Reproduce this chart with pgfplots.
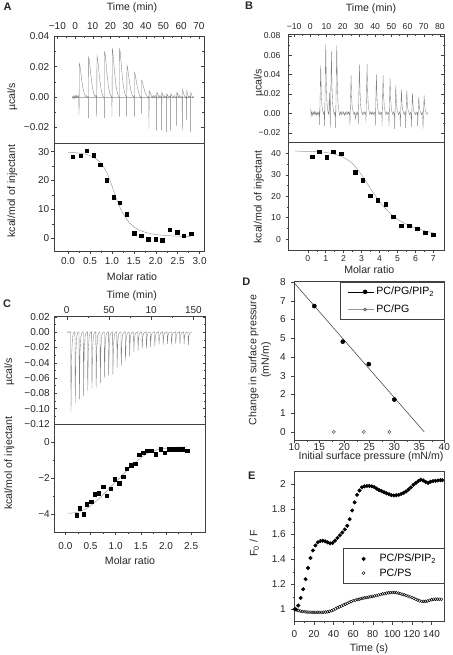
\documentclass[border=0pt]{standalone}
\usepackage{pgfplots}
\pgfplotsset{compat=1.18}
\usepackage{fontspec}
\setmainfont{Liberation Sans}
\newcommand{\fs}{\fontsize{10.6}{12.5}\selectfont}
\newcommand{\ft}{\fontsize{10}{12}\selectfont}
\newcommand{\fb}{\fontsize{8.6}{10}\selectfont}
\pgfplotsset{
  base/.style={scale only axis, anchor=south west,
    scaled x ticks=false, scaled y ticks=false,
    axis line style={black!75, line width=0.5pt},
    every tick/.style={black!75, line width=0.4pt},
    major tick length=3pt, minor tick length=1.6pt,
    tick label style={font=\ft, text=black!85, inner sep=1pt},
    /pgf/number format/assume math mode=true},
  itctop/.style={base, tick align=inside, xtick pos=right, xticklabel pos=right,
    ytick pos=both, yticklabel pos=left, minor x tick num=1, minor y tick num=1},
  itcbot/.style={base, tick align=outside, xtick pos=left, ytick pos=left,
    minor x tick num=1, minor y tick num=1},
  trace/.style={black!50, line width=0.35pt},
  fit/.style={black!38, line width=0.5pt, smooth},
  pts/.style={only marks, mark=square*, mark size=1.7pt, black},
}
\begin{document}
\begin{tikzpicture}
\useasboundingbox (0pt,0pt) rectangle (452pt,-655pt);

% ---------------- A top
\begin{axis}[itctop, at={(54pt,-143pt)}, width=150pt, height=107pt,
  yticklabel style={xshift=-3.5pt}, xticklabel style={yshift=5.5pt},
  xmin=-11.9, xmax=72.9, ymin=-0.0304, ymax=0.0402,
  xtick={-10,0,10,20,30,40,50,60,70}, xticklabels={−10,0,10,20,30,40,50,60,70},
  ytick={-0.02,0,0.02,0.04}, yticklabels={−0.02,0.00,0.02,0.04}]
\addplot[black!30, line width=0.3pt] coordinates {(-1.5,0) (67,0)};
\addplot[trace] coordinates {
(-1.5,0.0005) (-1.1,-0.0012) (-0.7,0.0008) (-0.3,-0.001) (0.1,0.0009) (0.5,-0.0007) (0.9,0.0011) (1.3,-0.0006) (1.7,0.0008) (2.1,-0.0003)
(2.26,-0.012) (2.4,0.022) (2.8,0.0205) (3.3,0.0155) (3.9,0.0099) (4.6,0.0048) (5.3,0.0018) (6.0,0.0002) (6.6,0.0009) (7.1,-0.0006) (7.45,0.0003)
(7.53,-0.014) (7.7,0.026) (8.1,0.0240) (8.6,0.0182) (9.2,0.0117) (9.9,0.0057) (10.6,0.0021) (11.3,0.0003) (11.8,0.0009) (12.15,-0.0004)
(12.24,-0.013) (12.4,0.027) (12.8,0.0248) (13.3,0.0189) (13.9,0.0122) (14.6,0.0059) (15.3,0.0022) (15.9,0.0004) (16.45,-0.0005)
(16.57,-0.014) (16.7,0.030) (17.1,0.0276) (17.6,0.021) (18.2,0.0135) (18.9,0.0066) (19.6,0.0024) (20.3,0.0006) (20.8,-0.0004)
(20.90,-0.013) (21.05,0.032) (21.4,0.0294) (21.9,0.0224) (22.5,0.0144) (23.2,0.007) (23.9,0.0026) (24.5,0.0006) (24.95,-0.0003)
(25.05,-0.013) (25.2,0.032) (25.55,0.0294) (26.05,0.0224) (26.65,0.0144) (27.35,0.007) (28.05,0.0026) (28.7,0.0005) (29.1,-0.0004)
(29.19,-0.013) (29.35,0.021) (29.7,0.0193) (30.2,0.0147) (30.8,0.0095) (31.5,0.0046) (32.2,0.0017) (32.9,0.0002) (33.4,0.0008)
(33.52,-0.013) (33.65,0.016) (34.0,0.0147) (34.5,0.0112) (35.1,0.0072) (35.8,0.0035) (36.5,0.0013) (37.0,-0.0006) (37.4,0.0004)
(37.47,-0.011) (37.6,0.011) (38.0,0.0101) (38.5,0.0077) (39.1,0.005) (39.8,0.0024) (40.5,0.0009) (41.1,-0.0007) (41.7,0.0005)
(41.80,-0.021) (41.9,0.004) (42.4,0.003) (43.0,0.0015) (43.6,-0.0008) (44.2,0.0011) (44.8,-0.0006) (45.4,0.0009) (46.0,-0.0003)
(46.14,-0.022) (46.25,0.003) (46.8,0.002) (47.4,-0.0007) (48.0,0.001) (48.5,-0.0006) (48.9,0.0003)
(48.97,-0.022) (49.1,0.003) (49.6,0.0015) (50.2,-0.0008) (50.8,0.0009) (51.4,-0.0005) (51.7,0.0003)
(51.79,-0.023) (51.9,0.002) (52.4,0.001) (53.0,-0.0007) (53.6,0.0008) (53.95,-0.0002)
(54.05,-0.022) (54.15,0.002) (54.7,0.0012) (55.4,-0.0007) (56.1,0.0009) (56.8,-0.0005) (57.35,0.0003)
(57.44,-0.019) (57.55,0.003) (58.0,0.002) (58.6,-0.0004) (59.2,0.0009) (59.9,-0.0006) (60.5,0.0003)
(60.64,-0.022) (60.75,0.005) (61.2,0.003) (61.8,0.0008) (62.4,-0.0006) (62.95,0.0004)
(63.09,-0.015) (63.2,0.004) (63.6,0.002) (64.2,-0.0005) (64.8,0.0006) (65.25,-0.0002)
(65.35,-0.023) (65.45,0.003) (65.9,0.0015) (66.4,-0.0006) (66.9,0.0004)};
\end{axis}

% ---------------- A bottom
\begin{axis}[itcbot, at={(54pt,-251pt)}, width=150pt, height=108pt,
  yticklabel style={xshift=-0.5pt}, xticklabel style={yshift=-2pt},
  xmin=-0.32, xmax=3.1, ymin=-4.4, ymax=33,
  xtick={0,0.5,1,1.5,2,2.5,3}, xticklabels={0.0,0.5,1.0,1.5,2.0,2.5,3.0},
  ytick={0,10,20,30}]
\addplot[fit] coordinates {(0.0,29.8) (0.2,29.6) (0.4,29.1) (0.55,28.3) (0.7,26.8) (0.8,25.0) (0.9,22.2) (1.0,18.2) (1.1,13.8) (1.2,10.2) (1.3,7.5) (1.4,5.4) (1.5,4.0) (1.6,3.0) (1.8,1.9) (2.0,1.3) (2.4,0.8) (2.8,0.6)};
\addplot[pts] coordinates {(0.11,28.3) (0.29,28.7) (0.43,30.3) (0.59,28.8) (0.73,25.4) (0.88,20.1) (1.04,14.2) (1.18,12.3) (1.34,8.3) (1.51,1.7) (1.67,0.8) (1.83,-0.3) (2.0,-0.3) (2.15,-0.6) (2.32,2.9) (2.49,2.1) (2.64,1.0) (2.81,1.5)};
\end{axis}

% ---------------- B top
\begin{axis}[itctop, at={(288.7pt,-142.7pt)}, width=155.6pt, height=108.7pt,
  tick label style={font=\fb},
  yticklabel style={xshift=-7pt}, xticklabel style={yshift=3.5pt},
  xmin=-13.3, xmax=82.7, ymin=-0.0303, ymax=0.0818,
  xtick={-10,0,10,20,30,40,50,60,70,80}, xticklabels={−10,0,10,20,30,40,50,60,70,80},
  ytick={-0.02,0,0.02,0.04,0.06,0.08}, yticklabels={−0.02,0.00,0.02,0.04,0.06,0.08}]
\addplot[trace] coordinates {
(0.3,0.005) (0.5,-0.003) (0.9,0.001) (1.3,-0.002) (1.7,0.0015) (2.1,-0.001) (2.5,0.002) (2.9,-0.0015) (3.3,0.001) (3.7,-0.002) (4.1,0.0015) (4.5,-0.001) (4.9,0.001) (5.3,-0.0015) (5.6,0.001)
(5.76,-0.012) (6.46,0.0495) (6.8,0.022) (7.2,0.008) (7.7,0.002) (8.2,-0.001) (8.6,0.0015)
(8.85,-0.013) (9.55,0.0714) (9.9,0.032) (10.3,0.011) (10.8,0.003) (11.2,-0.001)
(11.5,0.001) (11.8,0.0209) (12.1,0.004) (12.25,0.0)
(12.35,-0.015) (13.05,0.0639) (13.4,0.028) (13.8,0.01) (14.3,0.003) (14.8,-0.0015) (15.3,0.001) (15.5,-0.001)
(15.64,-0.015) (16.34,0.0701) (16.7,0.031) (17.1,0.011) (17.6,0.003) (18.1,-0.002) (18.6,0.0015) (19.1,-0.0015) (19.6,0.002) (20.1,-0.001) (20.6,0.0015) (21.1,-0.002) (21.6,0.001) (22.1,-0.0015) (22.6,0.002) (23.1,-0.001) (23.6,0.0015) (24.1,-0.001) (24.4,0.001)
(24.49,-0.013) (25.19,0.0392) (25.5,0.017) (25.9,0.006) (26.4,0.002) (26.9,-0.001) (27.4,0.001) (27.86,-0.006) (28.3,0.001) (28.8,-0.0015) (29.3,0.0015) (29.5,-0.001)
(29.63,-0.012) (30.33,0.0501) (30.7,0.022) (31.1,0.008) (31.6,0.002) (32.1,-0.0015) (32.6,0.0015) (33.1,-0.001) (33.6,0.0015) (34.1,-0.001) (34.3,0.001)
(34.36,-0.010) (35.06,0.0508) (35.4,0.022) (35.8,0.008) (36.3,0.002) (36.8,-0.0015) (37.3,0.0015) (37.8,-0.001) (38.3,0.0015) (38.8,-0.0015) (39.3,0.001) (39.8,-0.001) (40.0,0.001)
(40.12,-0.013) (40.82,0.0398) (41.15,0.017) (41.5,0.006) (42.0,0.0015) (42.5,-0.0015) (43.0,0.0015) (43.5,-0.001) (44.0,0.001) (44.2,-0.0005)
(44.24,-0.013) (44.94,0.0392) (45.3,0.017) (45.7,0.006) (46.2,0.0015) (46.7,-0.0015) (47.2,0.0015) (47.7,-0.001) (48.2,0.001) (48.5,-0.0005)
(48.56,-0.014) (49.26,0.0357) (49.6,0.015) (50.0,0.005) (50.5,0.001) (51.0,-0.0015) (51.5,0.0015) (51.9,-0.0005)
(52.06,-0.016) (52.76,0.0288) (53.1,0.012) (53.5,0.004) (54.0,0.001) (54.5,-0.0015) (55.0,0.0015) (55.4,-0.0005)
(55.55,-0.014) (56.25,0.0244) (56.6,0.010) (57.0,0.0035) (57.5,0.001) (58.0,-0.0015) (58.5,0.0015) (58.75,-0.0005)
(58.85,-0.015) (59.55,0.0237) (59.9,0.010) (60.3,0.0035) (60.8,0.001) (61.3,-0.0015) (61.8,0.0015) (62.2,-0.0005)
(62.35,-0.014) (63.05,0.0209) (63.4,0.009) (63.8,0.003) (64.3,0.0005) (64.8,-0.0015) (65.3,0.0015) (65.8,-0.001) (66.1,0.0005)
(66.25,-0.013) (66.95,0.017) (67.3,0.007) (67.7,0.0025) (68.2,0.0005) (68.7,-0.0015) (69.2,0.0015) (69.4,-0.0005)
(69.55,-0.016) (70.25,0.0186) (70.6,0.008) (71.0,0.0025) (71.5,0.0005) (72.0,-0.001) (72.3,0.001)};
\end{axis}

% ---------------- B bottom
\begin{axis}[itcbot, at={(288.7pt,-250pt)}, width=155.6pt, height=107.3pt,
  tick label style={font=\fb},
  yticklabel style={xshift=-3.7pt}, xticklabel style={yshift=-1.5pt},
  xmin=-1.06, xmax=7.61, ymin=-5.1, ymax=44.95,
  xtick={0,1,2,3,4,5,6,7}, ytick={0,10,20,30,40}]
\addplot[fit] coordinates {(-0.7,41.0) (0.0,40.9) (0.5,40.8) (1.0,40.4) (1.5,39.6) (2.0,38.0) (2.5,35.2) (3.0,30.0) (3.5,23.5) (4.0,17.5) (4.5,12.8) (5.0,9.3) (5.5,6.9) (6.0,5.2) (6.5,3.9) (7.0,2.9)};
\addplot[pts] coordinates {(0.24,38.4) (0.65,40.8) (1.06,38.1) (1.43,40.8) (1.86,39.7) (2.64,31.1) (3.06,27.5) (3.47,20.2) (3.90,18.2) (4.36,16.2) (4.77,10.3) (5.20,6.2) (5.66,6.2) (6.09,4.8) (6.55,3.0) (7.0,1.9)};
\end{axis}

% ---------------- C top
\begin{axis}[itctop, at={(54.3pt,-424pt)}, width=151.4pt, height=107.3pt,
  yticklabel style={xshift=-3.3pt}, xticklabel style={yshift=2.2pt},
  xmin=-14.7, xmax=164.6, ymin=-0.1202, ymax=0.0202,
  xtick={0,50,100,150}, xticklabels={0,50,10,150},
  ytick={-0.12,-0.1,-0.08,-0.06,-0.04,-0.02,0,0.02},
  yticklabels={−0.12,−0.10,−0.08,−0.06,−0.04,−0.02,0.00,0.02}]
\addplot[trace] coordinates {
(0.4,0.0005) (1.5,-0.0006) (2.6,0.0007) (3.6,-0.0004)
(4.7,0.0005) (5.1,-0.1038) (5.8,-0.0311) (6.9,-0.0062) (8.2,-0.0004)
(9.7,0.0005) (10.1,-0.0928) (10.8,-0.0278) (11.9,-0.0056) (13.2,-0.0004)
(14.6,0.0005) (15.0,-0.0875) (15.7,-0.0263) (16.8,-0.0053) (18.1,-0.0004)
(19.6,0.0005) (20.0,-0.0832) (20.7,-0.025) (21.8,-0.005) (23.1,-0.0004)
(24.5,0.0005) (24.9,-0.0766) (25.6,-0.023) (26.7,-0.0046) (28.0,-0.0004)
(29.5,0.0005) (29.9,-0.074) (30.6,-0.0222) (31.7,-0.0044) (33.0,-0.0004)
(34.5,0.0005) (34.9,-0.0723) (35.6,-0.0217) (36.7,-0.0043) (38.0,-0.0004)
(39.4,0.0005) (39.8,-0.0665) (40.5,-0.02) (41.6,-0.004) (42.9,-0.0004)
(44.4,0.0005) (44.8,-0.06) (45.5,-0.018) (46.6,-0.0036) (47.9,-0.0004)
(49.3,0.0005) (49.7,-0.0565) (50.4,-0.017) (51.5,-0.0034) (52.8,-0.0004)
(54.3,0.0005) (54.7,-0.0556) (55.4,-0.0167) (56.5,-0.0033) (57.8,-0.0004)
(59.3,0.0005) (59.7,-0.046) (60.4,-0.0138) (61.5,-0.0028) (62.8,-0.0004)
(64.2,0.0005) (64.6,-0.0447) (65.3,-0.0134) (66.4,-0.0027) (67.7,-0.0004)
(69.2,0.0005) (69.6,-0.0373) (70.3,-0.0112) (71.4,-0.0022) (72.7,-0.0004)
(74.1,0.0005) (74.5,-0.0316) (75.2,-0.0095) (76.3,-0.0019) (77.6,-0.0004)
(79.1,0.0005) (79.5,-0.0258) (80.2,-0.0077) (81.3,-0.0015) (82.6,-0.0004)
(84.1,0.0005) (84.5,-0.0241) (85.2,-0.0072) (86.3,-0.0014) (87.6,-0.0004)
(89.0,0.0005) (89.4,-0.0215) (90.1,-0.0065) (91.2,-0.0013) (92.5,-0.0004)
(94.0,0.0005) (94.4,-0.0206) (95.1,-0.0062) (96.2,-0.0012) (97.5,-0.0004)
(98.9,0.0005) (99.3,-0.0193) (100.0,-0.0058) (101.1,-0.0012) (102.4,-0.0004)
(103.9,0.0005) (104.3,-0.0185) (105.0,-0.0056) (106.1,-0.0011) (107.4,-0.0004)
(108.9,0.0005) (109.3,-0.0163) (110.0,-0.0049) (111.1,-0.001) (112.4,-0.0004)
(113.8,0.0005) (114.2,-0.0163) (114.9,-0.0049) (116.0,-0.001) (117.3,-0.0004)
(118.8,0.0005) (119.2,-0.0153) (119.9,-0.0046) (121.0,-0.0009) (122.3,-0.0004)
(123.7,0.0005) (124.1,-0.0163) (124.8,-0.0049) (125.9,-0.001) (127.2,-0.0004)
(128.7,0.0005) (129.1,-0.0153) (129.8,-0.0046) (130.9,-0.0009) (132.2,-0.0004)
(133.7,0.0005) (134.1,-0.0153) (134.8,-0.0046) (135.9,-0.0009) (137.2,-0.0004)
(138.6,0.0005) (139.0,-0.0153) (139.7,-0.0046) (140.8,-0.0009) (142.1,-0.0004)
(143.6,0.0005) (144.0,-0.017) (144.7,-0.0051) (145.8,-0.001) (147.1,-0.0004)
(148.4,0.0003)};
\end{axis}

% ---------------- C bottom
\begin{axis}[itcbot, at={(54.3pt,-532.3pt)}, width=151.4pt, height=108.3pt,
  yticklabel style={xshift=-0.3pt}, xticklabel style={yshift=-6pt},
  xmin=-0.22, xmax=2.79, ymin=-5, ymax=1.02,
  xtick={0,0.5,1,1.5,2,2.5}, xticklabels={0.0,0.5,1.0,1.5,2.0,2.5},
  ytick={-4,-2,0}, yticklabels={−4,−2,0}]
\addplot[fit] coordinates {(0.05,-3.94) (0.25,-3.88) (0.45,-3.62) (0.65,-3.18) (0.85,-2.62) (1.05,-2.05) (1.25,-1.5) (1.45,-0.98) (1.55,-0.76) (1.65,-0.58) (1.85,-0.4) (2.05,-0.31) (2.25,-0.27) (2.42,-0.25)};
\addplot[pts] coordinates {(0.22,-4.04) (0.28,-3.67) (0.36,-4.0) (0.43,-3.43) (0.51,-3.30) (0.58,-2.89) (0.66,-2.83) (0.75,-2.46) (0.82,-2.96) (0.90,-2.56) (0.98,-2.04) (1.07,-2.28) (1.15,-1.91) (1.22,-1.48) (1.31,-1.26) (1.39,-1.20) (1.47,-0.70) (1.55,-0.56) (1.63,-0.46) (1.72,-0.46) (1.80,-0.65) (1.89,-0.37) (1.97,-0.56) (2.06,-0.37) (2.14,-0.37) (2.22,-0.37) (2.32,-0.37) (2.42,-0.46)};
\end{axis}

% ---------------- D
\begin{axis}[base, tick align=outside, xtick pos=left, ytick pos=left,
  at={(294.3pt,-440pt)}, width=150pt, height=158.3pt,
  yticklabel style={xshift=-4.3pt}, xticklabel style={yshift=0.8pt},
  xmin=10, xmax=40, ymin=-0.43, ymax=8.02,
  xtick={10,15,20,25,30,35,40}, ytick={0,1,2,3,4,5,6,7,8},
  minor x tick num=1,
  legend image code/.code={\draw[#1, mark repeat=2, mark phase=2] plot coordinates {(0pt,0pt) (17pt,0pt) (26pt,0pt)};},
  legend style={at={(1,1)}, anchor=north east, draw=black!75, line width=0.5pt,
    font=\fs, inner xsep=8pt, inner ysep=3.3pt, row sep=4.5pt},
  legend cell align=left]
\addlegendimage{black, line width=0.5pt, mark=*, mark size=2pt}
\addlegendentry{PC/PG/PIP\textsubscript{2}}
\addlegendimage{black!40, line width=0.6pt, mark=o, mark size=1.6pt, mark options={black!70, line width=0.5pt}}
\addlegendentry{PC/PG}
\addplot[black!80, line width=0.5pt, forget plot] coordinates {(10,7.95) (36,0)};
\addplot[only marks, mark=*, mark size=2.1pt, black, forget plot] coordinates {(14.0,6.72) (19.7,4.82) (24.9,3.62) (30.0,1.73)};
\addplot[only marks, mark=o, mark size=1.6pt, black!70, line width=0.5pt, forget plot] coordinates {(17.9,0) (23.9,0) (29.0,0)};
\end{axis}

% ---------------- E
\begin{axis}[base, tick align=outside, xtick pos=left, ytick pos=left,
  at={(294.3pt,-621.7pt)}, width=150pt, height=150pt,
  yticklabel style={xshift=-4.3pt}, xticklabel style={yshift=-5pt},
  xmin=0, xmax=153, ymin=0.9, ymax=2.1,
  xtick={0,20,40,60,80,100,120,140}, ytick={1,1.2,1.4,1.6,1.8,2},
  yticklabels={1,1.2,1.4,1.6,1.8,2}, minor y tick num=1, minor x tick num=1,
  legend image code/.code={\path[draw=none, fill=none] (0pt,0pt) -- (28pt,0pt); \draw[#1, /tikz/only marks] plot coordinates {(14pt,0pt)};},
  legend style={at={(1,0.491)}, anchor=north east, draw=black!75, line width=0.5pt,
    font=\fs, inner xsep=6pt, inner ysep=4pt, row sep=1pt},
  legend cell align=left]
\addplot[only marks, mark=*, mark size=1.8pt, black] coordinates {
(1.5,1.00) (4,1.03) (6.5,1.09) (9,1.16) (11.5,1.24) (14,1.33) (16.5,1.41) (19,1.47) (21.5,1.51) (24,1.535)
(26.5,1.545) (29,1.548) (31.5,1.543) (34,1.535) (36.5,1.527) (39,1.530) (41.5,1.548) (44,1.570) (46.5,1.592) (49,1.614)
(51.5,1.638) (54,1.668) (56.5,1.72) (59,1.79) (61.5,1.855) (64,1.915) (66.5,1.950) (69,1.975) (71.5,1.983) (74,1.986)
(76.5,1.986) (79,1.983) (81.5,1.977) (84,1.965) (86.5,1.953) (89,1.945) (91.5,1.936) (94,1.928) (96.5,1.920) (99,1.912)
(101.5,1.910) (104,1.912) (106.5,1.915) (109,1.922) (111.5,1.931) (114,1.942) (116.5,1.958) (119,1.975) (121.5,1.995) (124,2.010)
(126.5,2.025) (129,2.036) (131.5,2.030) (134,2.018) (136.5,2.011) (139,2.020) (141.5,2.025) (144,2.027) (146.5,2.030) (149,2.032) (151,2.032)};
\addlegendentry{PC/PS/PIP\textsubscript{2}}
\addplot[only marks, mark=o, mark size=1.5pt, black, line width=0.4pt] coordinates {
(0,1.000) (2,0.995) (4,0.990) (6,0.985) (8,0.982) (10,0.980) (12,0.978) (14,0.977) (16,0.976) (18,0.975)
(20,0.975) (22,0.975) (24,0.975) (26,0.975) (28,0.975) (30,0.976) (32,0.977) (34,0.979) (36,0.983) (38,0.988)
(40,0.995) (42,1.003) (44,1.011) (46,1.019) (48,1.026) (50,1.033) (52,1.040) (54,1.047) (56,1.054) (58,1.061)
(60,1.067) (62,1.072) (64,1.076) (66,1.080) (68,1.084) (70,1.088) (72,1.091) (74,1.094) (76,1.097) (78,1.100)
(80,1.103) (82,1.106) (84,1.110) (86,1.114) (88,1.118) (90,1.122) (92,1.125) (94,1.128) (96,1.131) (98,1.133)
(100,1.134) (102,1.134) (104,1.132) (106,1.129) (108,1.125) (110,1.120) (112,1.115) (114,1.110) (116,1.105) (118,1.099)
(120,1.093) (122,1.087) (124,1.080) (126,1.073) (128,1.067) (130,1.063) (132,1.062) (134,1.063) (136,1.066) (138,1.071)
(140,1.076) (142,1.079) (144,1.080) (146,1.080) (148,1.080) (150,1.079)};
\addlegendentry{PC/PS}
\end{axis}

% ---------------- labels
\begin{scope}[every node/.style={font=\fs, text=black!85}]
\node[font=\bfseries\fontsize{11}{13}\selectfont] at (7.5pt,-7pt) {A};
\node at (132pt,-8pt) {Time (min)};
\node[rotate=90] at (12.5pt,-97pt) {µcal/s};
\node[rotate=90] at (12.5pt,-191pt) {kcal/mol of injectant};
\node at (132pt,-276.5pt) {Molar ratio};

\node[font=\bfseries\fontsize{11}{13}\selectfont] at (249pt,-6pt) {B};
\node at (371pt,-8.5pt) {Time (min)};
\node[rotate=90] at (258.8pt,-83pt) {µcal/s};
\node[rotate=90] at (258.8pt,-197pt) {kcal/mol of injectant};
\node at (369.3pt,-270pt) {Molar ratio};

\node[font=\bfseries\fontsize{11}{13}\selectfont] at (7pt,-304pt) {C};
\node at (131.7pt,-296pt) {Time (min)};
\node[rotate=90] at (9.3pt,-371.7pt) {µcal/s};
\node[rotate=90] at (9.3pt,-463.3pt) {kcal/mol of injectant};
\node at (130pt,-561pt) {Molar ratio};

\node[font=\bfseries\fontsize{11}{13}\selectfont] at (246.3pt,-281.7pt) {D};
\node[rotate=90, align=center] at (260pt,-360pt) {Change in surface pressure\\(mN/m)};
\node at (371pt,-456.7pt) {Initial surface pressure (mN/m)};

\node[font=\bfseries\fontsize{11}{13}\selectfont] at (251.7pt,-475.7pt) {E};
\node[rotate=90] at (254.3pt,-543.3pt) {F\textsubscript{0} / F};
\node at (369pt,-649pt) {Time (s)};
\end{scope}
\end{tikzpicture}
\end{document}
